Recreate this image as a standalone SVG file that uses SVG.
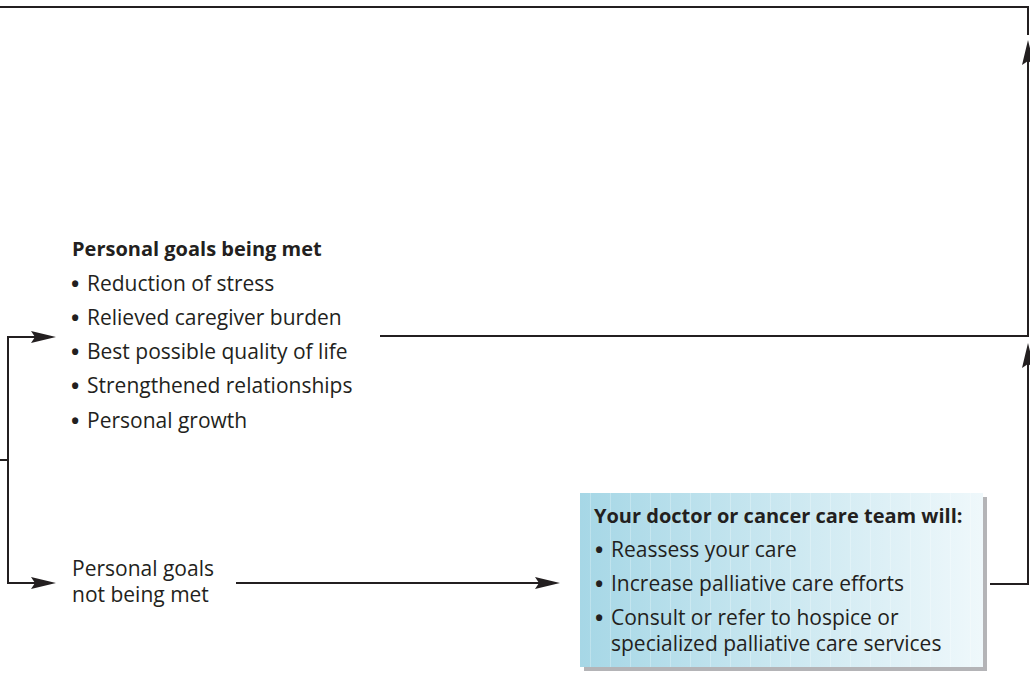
<svg xmlns="http://www.w3.org/2000/svg" width="1030" height="675" viewBox="0 0 1030 675">
<style>
.t{font-family:"Open Sans","Noto Sans","Liberation Sans",sans-serif;font-size:21px;fill:#231f20}
.b{font-weight:bold;font-size:20px}
.bu{font-weight:bold;font-size:22px}
.ln{fill:none;stroke:#231f20;stroke-width:2}
.ah{fill:#231f20}
</style>
<defs>
<linearGradient id="bg" x1="0" y1="0" x2="1" y2="0">
<stop offset="0" stop-color="#a6d7e6"/>
<stop offset="1" stop-color="#eff8fb"/>
</linearGradient>
<pattern id="stripes" x="580" y="0" width="20" height="10" patternUnits="userSpaceOnUse">
<rect x="10" y="0" width="1" height="10" fill="#ffffff" opacity="0.25"/>
</pattern>
</defs>
<g id="connectors">
<path class="ln" d="M0,7 H1028 V35"/>
<path class="ln" d="M380,336 H1028 V60"/>
<path class="ah" d="M1028,40 L1034,65 L1028,61 L1022,65 Z"/>
<path class="ln" d="M990,584 H1028 V363"/>
<path class="ah" d="M1028,343 L1034,368 L1028,364 L1022,368 Z"/>
<path class="ln" d="M0,460 H8"/>
<path class="ln" d="M36,337 H8 V583 H36"/>
<path class="ah" d="M56,337 L31,331 L35,337 L31,343 Z"/>
<path class="ah" d="M56,583 L31,577 L35,583 L31,589 Z"/>
<path class="ln" d="M236,583 H540"/>
<path class="ah" d="M560,583 L535,577 L539,583 L535,589 Z"/>
</g>
<g id="goals-met">
<text class="t b" x="72" y="256">Personal goals being met</text>
<text class="t" x="71" y="291"><tspan class="bu" dy="1">•</tspan><tspan x="87" dy="-1">Reduction of stress</tspan></text>
<text class="t" x="71" y="325"><tspan class="bu" dy="1">•</tspan><tspan x="87" dy="-1">Relieved caregiver burden</tspan></text>
<text class="t" x="71" y="359"><tspan class="bu" dy="1">•</tspan><tspan x="87" dy="-1">Best possible quality of life</tspan></text>
<text class="t" x="71" y="393"><tspan class="bu" dy="1">•</tspan><tspan x="87" dy="-1">Strengthened relationships</tspan></text>
<text class="t" x="71" y="428"><tspan class="bu" dy="1">•</tspan><tspan x="87" dy="-1">Personal growth</tspan></text>
</g>
<g id="goals-not-met">
<text class="t" x="72" y="576">Personal goals</text>
<text class="t" x="72" y="602">not being met</text>
</g>
<g id="care-team">
<rect x="584" y="497" width="403" height="174" fill="#b4b4b7"/>
<rect x="580" y="493" width="403" height="174" fill="url(#bg)"/>
<rect x="580" y="493" width="403" height="174" fill="url(#stripes)"/>
<text class="t b" x="594" y="523">Your doctor or cancer care team will:</text>
<text class="t" x="595" y="557"><tspan class="bu" dy="1">•</tspan><tspan x="611" dy="-1">Reassess your care</tspan></text>
<text class="t" x="595" y="591"><tspan class="bu" dy="1">•</tspan><tspan x="611" dy="-1">Increase palliative care efforts</tspan></text>
<text class="t" x="595" y="625"><tspan class="bu" dy="1">•</tspan><tspan x="611" dy="-1">Consult or refer to hospice or</tspan></text>
<text class="t" x="611" y="651">specialized palliative care services</text>
</g>
</svg>
